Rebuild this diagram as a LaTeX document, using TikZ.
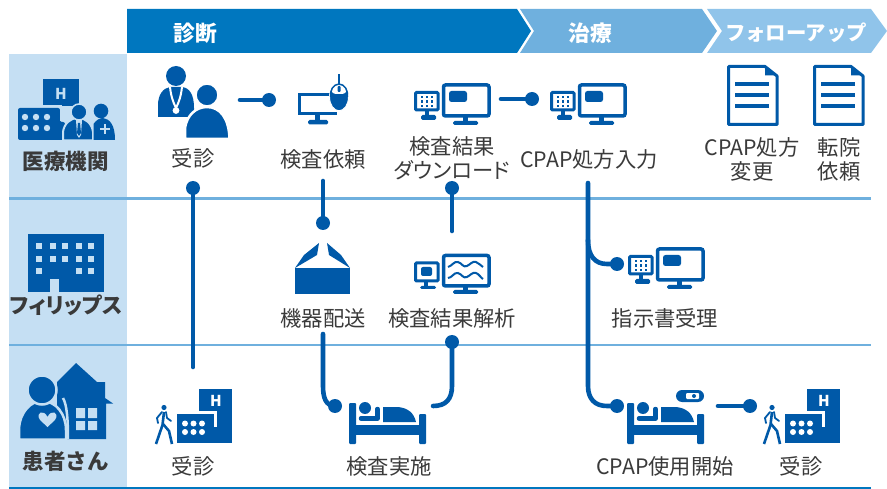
\documentclass[tikz,border=0pt]{standalone}
\usepackage{fontspec}
\setmainfont{Noto Sans CJK JP}
\definecolor{hA}{HTML}{0077BF}
\definecolor{hB}{HTML}{6FB0DE}
\definecolor{hC}{HTML}{90C4EA}
\definecolor{lb}{HTML}{C5DFF3}
\definecolor{ib}{HTML}{0059A8}
\definecolor{tx}{HTML}{3A3A3A}
\newcommand{\prop}{\addfontfeature{RawFeature=+palt}}
\tikzset{
  conn/.style={draw=ib,line width=4.6pt,line cap=round},
  dotn/.style={circle,fill=ib,minimum size=14pt,inner sep=0pt,outer sep=0pt},
  lab/.style={text=tx,font=\fontsize{21.3}{24}\selectfont,align=center,inner sep=0pt},
  sidelab/.style={text=tx,font=\fontsize{21.5}{24}\selectfont\bfseries,inner sep=0pt},
  headlab/.style={text=white,font=\fontsize{21.8}{24}\selectfont\bfseries,inner sep=0pt},
  pics/smallpc/.style={code={
    \draw[ib,line width=3pt,rounded corners=1pt,fill=white] (415.5,92.5) rectangle (438,110);
    \foreach \px in {422,427,432}{\foreach \py in {97,101.5,106}{\fill[ib] (\px-1.1,\py-1.1) rectangle +(2.2,2.2);}}
    \fill[ib] (425,110) rectangle (429,116);
    \fill[ib,rounded corners=1.5pt] (421,115) rectangle (436,120);
  }},
  pics/bigpc/.style={code={
    \draw[ib,line width=3.5pt,rounded corners=2pt,fill=white] (443.5,85) rectangle (489,116);
    \fill[ib] (463,116) rectangle (468,122);
    \fill[ib,rounded corners=1.5pt] (453,121) rectangle (478,125);
  }},
  pics/pcpair/.style={code={
    \pic {smallpc}; \pic {bigpc};
    \fill[ib,rounded corners=2.5pt] (449,91) rectangle (467,102);
  }},
  pics/wavepc/.style={code={
    \draw[ib,line width=3pt,rounded corners=1pt,fill=white] (415.5,263) rectangle (438,281);
    \fill[ib,rounded corners=2pt] (421,267) rectangle (432,276);
    \fill[ib] (424,281) rectangle (428,287);
    \fill[ib,rounded corners=1.5pt] (420,286) rectangle (436,289);
    \draw[ib,line width=3.5pt,rounded corners=2pt,fill=white] (443.5,255.5) rectangle (489,286);
    \fill[ib] (463,286) rectangle (468,290);
    \fill[ib,rounded corners=1.5pt] (453,290) rectangle (478,294);
    \draw[ib,line width=2pt] (448,267) .. controls (452,266) and (454,261) .. (458,262) .. controls (462,263) and (463,268) .. (467,266) .. controls (471,264) and (472,261) .. (476,262) .. controls (479,263) and (481,266) .. (483,267);
    \draw[ib,line width=2pt] (448,278) .. controls (452,278) and (454,272) .. (458,273) .. controls (462,274) and (463,279) .. (467,277) .. controls (471,275) and (472,272) .. (476,273) .. controls (479,274) and (481,278) .. (483,279);
  }},
  pics/docicon/.style={code={
    \draw[ib,line width=3pt,line join=round,fill=white] (728.5,66.5) -- (765,66.5) -- (777,76) -- (777,124.5) -- (728.5,124.5) -- cycle;
    \fill[ib] (765,65) -- (778,75.5) -- (765,75.5) -- cycle;
    \foreach \py in {84,95,106}{\draw[ib,line width=4pt] (735,\py) -- (769,\py);}
  }},
  pics/bedicon/.style={code={
    \fill[ib,rounded corners=1pt] (349,403) rectangle (356,444);
    \fill[ib,rounded corners=1pt] (419,414) rectangle (426,444);
    \fill[ib] (349,425) rectangle (426,435);
    \fill[ib] (365,408) circle[radius=6];
    \draw[ib,line width=4.5pt,line cap=round,line join=round] (361,418.5) -- (377.5,418.5) -- (377.5,409);
    \fill[ib] (383,422) -- (383,407) -- (398,407) .. controls (408,408) and (414,413) .. (416,422) -- cycle;
  }},
  pics/walkhosp/.style={code={
    \fill[ib] (199,389) rectangle (232,443);
    \fill[ib] (177,414) rectangle (232,443);
    \draw[white,line width=3pt] (177,412.5) -- (215,412.5) -- (215,427);
    \node[font=\fontsize{15}{15}\selectfont\bfseries,text=white,inner sep=0pt] at (216,401) {H};
    \foreach \px in {185,193.5,202}{\foreach \py in {423.5,432}{\fill[white] (\px,\py) circle[radius=3];}}
    \fill[ib] (164,407.5) circle[radius=2.6];
    \draw[ib,line width=2.6pt,line join=round] (156,444) -- (162.5,425) -- (164,412);
    \draw[ib,line width=2.6pt,line join=round] (172,444) -- (169,431) -- (163,424);
    \draw[ib,line width=1.8pt,line join=round,line cap=round] (162,412) -- (157,418) -- (158,423);
    \draw[ib,line width=1.8pt,line join=round,line cap=round] (166,412) -- (167,418) -- (171,421);
  }}
}
\begin{document}
\begin{tikzpicture}[x=1pt,y=-1pt]
\useasboundingbox (0,0) rectangle (887,489);
% left column
\fill[lb] (9,54) rectangle (127,488);
% headers
\fill[hC] (707,9) -- (871,9) -- (887,31) -- (871,53) -- (707,53) -- (722,31) -- cycle;
\fill[hB] (520,9) -- (702,9) -- (717,31) -- (702,53) -- (520,53) -- (534,31) -- cycle;
\fill[hA] (127,9) -- (517,9) -- (531,31) -- (517,53) -- (127,53) -- cycle;
% rules
\draw[hB,line width=2.4pt] (9,198.5) -- (871,198.5);
\draw[hB,line width=2.4pt] (9,345) -- (871,345);
\draw[hA,line width=2.4pt] (9,488) -- (871,488);
% hospital, institution
\fill[ib] (43,79) rectangle (79,106);
\fill[ib,rounded corners=2pt] (18,108) -- (60,108) -- (60,122) -- (65,122) -- (65,140) -- (18,140) -- cycle;
\draw[lb,line width=2pt] (43,106) -- (61,106) -- (61,121);
\node[font=\fontsize{15}{15}\selectfont\bfseries,text=lb,inner sep=0pt] at (61,94) {H};
\foreach \px in {25,36,47}{\foreach \py in {117,128}{\fill[lb] (\px,\py) circle[radius=3.2];}}
\fill[ib,draw=lb,line width=2pt] (63,140.5) -- (63,132) .. controls (64,124) and (70,118) .. (78,118) .. controls (86,118) and (92,124) .. (93,132) -- (93,140.5) -- cycle;
\fill[ib,draw=lb,line width=1.5pt] (79,112) circle[radius=8];
\fill[lb] (76,120) -- (82,120) -- (81,135) -- (79,138) -- (77,135) -- cycle;
\fill[ib] (78,123) -- (80,123) -- (81,133) -- (79,136) -- (77,133) -- cycle;
\fill[ib] (93.5,140) -- (93.5,124) .. controls (96,120) and (100,118) .. (103,118) .. controls (110,119) and (115,125) .. (115,140) -- cycle;
\fill[ib] (101,111) circle[radius=7.3];
\draw[lb,line width=2pt] (100,129) -- (110,129) (105,124) -- (105,134);
% philips
\fill[ib] (28,234) rectangle (104,292);
\foreach \px in {39,53,65,79,91}{\foreach \py in {246,259}{\fill[lb] (\px-3,\py-3) rectangle +(6,6);}}
\foreach \px in {39,79,91}{\fill[lb] (\px-3,268) rectangle +(6,6);}
\fill[lb] (50,279.5) rectangle (59,292);
% patient+home
\fill[ib] (57,382) -- (76,363) -- (97,382) -- (105,382) -- (105,398) -- (113,403.5) -- (106,403.5) -- (106,439) -- (57,439) -- cycle;
\fill[lb] (76,408) rectangle (85,418) (88,408) rectangle (97,418) (76,421) rectangle (85,430) (88,421) rectangle (97,430);
\fill[ib,draw=lb,line width=2.5pt] (19,439.5) -- (19,428) .. controls (20,413) and (30,401) .. (42,401) .. controls (56,401) and (66,414) .. (66,430) -- (66,439.5) -- cycle;
\draw[lb,line width=2.5pt] (63,398) .. controls (67,405) and (68,420) .. (68,439);
\fill[ib,draw=lb,line width=2.5pt] (42,390) circle[radius=14.5];
\fill[lb] (47.5,417) .. controls (44,409) and (35,412) .. (40,420) -- (47.5,427) -- (55,420) .. controls (60,412) and (51,409) .. (47.5,417) -- cycle;
% doctor and patient
\fill[ib] (176,76) circle[radius=10];
\fill[ib] (158,117) -- (158,105) .. controls (158,95) and (163,88) .. (170,87) -- (182,87) .. controls (190,88) and (194,95) .. (194,108) -- (194,117) -- cycle;
\draw[white,line width=2pt] (170,87) .. controls (171,96) and (173,102) .. (176,108) .. controls (179,102) and (181,96) .. (182,87);
\fill[white] (176,110.5) circle[radius=3.4];
\fill[ib,draw=white,line width=2.5pt] (185,139) -- (185,128) .. controls (187,115) and (196,107) .. (207,107) .. controls (220,107) and (229,118) .. (229.5,139) -- cycle;
\fill[ib,draw=white,line width=1.5pt] (207,95) circle[radius=11];
% mouse monitor
\draw[ib,line width=3pt] (332,94.5) -- (299.5,94.5) -- (299.5,114) -- (337,114);
\fill[ib] (315,114) rectangle (320,121);
\fill[ib,rounded corners=1.5pt] (308,120) rectangle (328,124.5);
\fill[ib,draw=white,line width=1pt] (339,97) ellipse[x radius=9.5,y radius=13.8];
\fill[white,rounded corners=4pt] (331.5,85) -- (346.5,85) -- (346.5,94) -- (331.5,94) -- cycle;
\fill[ib,rounded corners=1pt] (337.5,86) rectangle (340.5,92);
\draw[ib,line width=2pt] (339,84) -- (339,74);
\draw[ib,line width=1.5pt] (330.5,97) .. controls (330,90) and (333,84.5) .. (339,84) .. controls (345,84.5) and (348,90) .. (347.5,97);
% pc icons
\pic at (0,0) {pcpair};
\pic at (136,0) {pcpair};
\pic at (214,164) {pcpair};
\pic at (0,0) {wavepc};
% docs
\pic at (0,0) {docicon};
\pic at (86,0) {docicon};
% box
\fill[ib] (295,268) rectangle (350,294);
\fill[ib] (295,268) -- (304,255) -- (319,243) -- (317,255) -- cycle;
\fill[ib] (350,268) -- (341,255) -- (327,243) -- (329,255) -- cycle;
% beds
\pic at (0,0) {bedicon};
\pic at (278,0) {bedicon};
\fill[ib,rounded corners=6pt] (676,390) rectangle (704,402);
\fill[white,rounded corners=1pt] (686,393) rectangle (699,399);
\fill[ib] (694,396) circle[radius=2];
% walkers
\pic at (0,0) {walkhosp};
\pic at (608,0) {walkhosp};
% labels
\node[headlab] (h1) at (195,33) {診断};
\node[headlab] (h2) at (590,33) {治療};
\node[headlab,font=\fontsize{20.4}{24}\selectfont\bfseries] (h3) at (796,33) {フォローアップ};
\node[sidelab] (s1) at (66,161) {医療機関};
\node[sidelab,font=\fontsize{21.5}{24}\selectfont\bfseries\prop] (s2) at (66,305) {フィリップス};
\node[sidelab] (s3) at (66,461) {患者さん};
\node[lab] (l1) at (193,158) {受診};
\node[lab] (l2) at (323,159) {検査依頼};
\node[lab] (l3) at (452,158) {検査結果\\{\prop ダウンロード}};
\node[lab] (l4) at (589,159) {CPAP処方入力};
\node[lab] (l5) at (752,159) {CPAP処方\\変更};
\node[lab] (l6) at (839,159) {転院\\依頼};
\node[lab] (l7) at (323,318) {機器配送};
\node[lab] (l8) at (452,318) {検査結果解析};
\node[lab] (l9) at (665,318) {指示書受理};
\node[lab] (l10) at (193,466) {受診};
\node[lab] (l11) at (389,466) {検査実施};
\node[lab] (l12) at (665,466) {CPAP使用開始};
\node[lab] (l13) at (801,466) {受診};
% connector dots and free ends
\node[dotn] (d1) at (193,188) {};
\coordinate (e1) at (193,367);
\coordinate (e2) at (240,100);
\node[dotn] (d2) at (269,100) {};
\coordinate (e3) at (323,181);
\node[dotn] (d3) at (323,223) {};
\node[dotn] (d4) at (452,188) {};
\coordinate (e4) at (452,231);
\coordinate (e5) at (501,99);
\node[dotn] (d5) at (532,99) {};
\coordinate (e6) at (588,183);
\node[dotn] (d6) at (617,264) {};
\node[dotn] (d7) at (617,406) {};
\coordinate (e8) at (323,334);
\node[dotn] (d8) at (335,406) {};
\node[dotn] (d9) at (452,342) {};
\coordinate (e9) at (433,406);
\coordinate (e10) at (718,406);
\node[dotn] (d10) at (750,406) {};
% connectors
\draw[conn] (d1) -- (e1);
\draw[conn] (e2) -- (d2);
\draw[conn] (e3) -- (d3);
\draw[conn] (d4) -- (e4);
\draw[conn] (e5) -- (d5);
\draw[conn] (e6) -- (588,386) .. controls (588,399) and (595,406) .. (607,406) -- (d7.center);
\draw[conn] (588,240) .. controls (588,256) and (595,264) .. (607,264) -- (d6.center);
\draw[conn] (e8) -- (323,386) .. controls (323,398) and (326,406) .. (335,406) -- (d8.center);
\draw[conn] (d9.center) -- (452,386) .. controls (452,399) and (446,406) .. (433,406) -- (e9);
\draw[conn] (e10) -- (d10);
\end{tikzpicture}
\end{document}
